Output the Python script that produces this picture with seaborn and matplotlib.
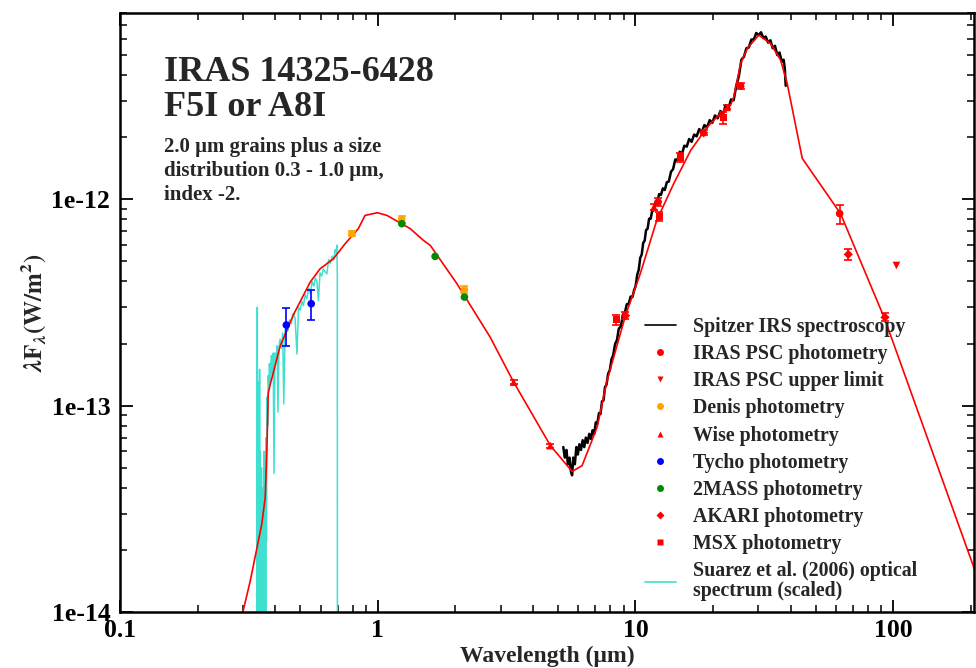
import matplotlib
matplotlib.use("Agg")
import matplotlib.pyplot as plt
import seaborn as sns
import pandas as pd
from matplotlib.lines import Line2D
from matplotlib.ticker import FixedLocator, FixedFormatter, LogLocator, NullFormatter

# ---------------- data ----------------
model_wl = [0.290, 0.320, 0.355, 0.366, 0.372, 0.376, 0.383, 0.418, 0.471, 0.547,
            0.598, 0.673, 0.748, 0.841, 0.893, 0.997, 1.086, 1.337, 1.506, 1.600,
            2.03, 2.73, 3.37, 4.68, 5.68, 6.21, 7.10, 7.76, 9.15, 10.45,
            12.1, 14.1, 16.4, 19.0, 21.4, 23.4, 24.1, 25.6, 27.2, 30.1,
            33.4, 36.6, 38.8, 44.4, 62.5, 92.7, 210.0]
model_flux = [8.4e-15, 1.41e-14, 2.67e-14, 3.59e-14, 6.5e-14, 1.15e-13, 1.27e-13, 1.94e-13, 2.76e-13, 3.97e-13,
              4.61e-13, 5.15e-13, 6.10e-13, 7.21e-13, 8.36e-13, 8.61e-13, 8.36e-13, 7.21e-13, 6.32e-13, 5.98e-13,
              3.90e-13, 2.15e-13, 1.30e-13, 6.40e-14, 4.80e-14, 5.12e-14, 7.85e-14, 1.32e-13, 2.73e-13, 4.37e-13,
              7.91e-13, 1.196e-12, 1.73e-12, 2.24e-12, 2.61e-12, 2.86e-12, 3.14e-12, 4.56e-12, 5.39e-12, 6.25e-12,
              5.70e-12, 4.73e-12, 3.65e-12, 1.58e-12, 8.53e-13, 2.64e-13, 1.53e-14]

spitzer_wl = [5.25, 5.32, 5.40, 5.47, 5.55, 5.62, 5.68, 5.74, 5.82, 5.90,
              5.98, 6.06, 6.15, 6.24, 6.33, 6.42, 6.52, 6.62, 6.72, 6.82,
              6.92, 7.02, 7.12, 7.22, 7.32, 7.42, 7.52, 7.62, 7.72, 7.84,
              7.96, 8.08, 8.20, 8.34, 8.48, 8.62, 8.78, 8.94, 9.10, 9.26,
              9.42, 9.58, 9.74, 9.88, 10.02, 10.16, 10.30, 10.44, 10.58, 10.72,
              10.86, 11.00, 11.15, 11.30, 11.46, 11.62, 11.80, 11.98, 12.16, 12.36,
              12.56, 12.78, 13.00, 13.24, 13.48, 13.74, 14.00, 14.28, 14.56, 14.86,
              15.16, 15.48, 15.82, 16.16, 16.52, 16.90, 17.28, 17.68, 18.10, 18.52,
              18.96, 19.42, 19.88, 20.36, 20.86, 21.36, 21.88, 22.40, 22.94, 23.50,
              24.06, 24.62, 25.20, 25.78, 26.36, 26.96, 27.56, 28.18, 28.80, 29.44,
              30.08, 30.72, 31.38, 32.04, 32.72, 33.40, 34.10, 34.80, 35.52, 36.24,
              36.96, 37.60, 38.00, 38.30]
spitzer_flux = [6.3e-14, 5.6e-14, 6.1e-14, 5.2e-14, 5.6e-14, 4.8e-14, 4.6e-14, 5.6e-14, 5.2e-14, 6.3e-14,
                5.8e-14, 6.5e-14, 6.1e-14, 6.8e-14, 6.3e-14, 7.0e-14, 6.6e-14, 7.3e-14, 6.9e-14, 7.6e-14,
                7.3e-14, 8.3e-14, 8.2e-14, 9.2e-14, 9.1e-14, 1.05e-13, 1.06e-13, 1.23e-13, 1.26e-13, 1.43e-13,
                1.49e-13, 1.68e-13, 1.76e-13, 1.99e-13, 2.08e-13, 2.36e-13, 2.42e-13, 2.76e-13, 2.82e-13, 3.10e-13,
                3.12e-13, 3.38e-13, 3.36e-13, 3.62e-13, 3.80e-13, 4.30e-13, 4.55e-13, 5.20e-13, 5.40e-13, 6.15e-13,
                6.30e-13, 7.10e-13, 7.20e-13, 8.05e-13, 8.05e-13, 8.80e-13, 8.85e-13, 9.75e-13, 9.70e-13, 1.06e-12,
                1.05e-12, 1.13e-12, 1.11e-12, 1.21e-12, 1.22e-12, 1.36e-12, 1.40e-12, 1.56e-12, 1.55e-12, 1.70e-12,
                1.66e-12, 1.82e-12, 1.80e-12, 1.96e-12, 1.90e-12, 2.06e-12, 2.02e-12, 2.19e-12, 2.12e-12, 2.29e-12,
                2.23e-12, 2.42e-12, 2.35e-12, 2.55e-12, 2.47e-12, 2.68e-12, 2.58e-12, 2.86e-12, 2.74e-12, 3.05e-12,
                3.02e-12, 3.55e-12, 3.95e-12, 4.75e-12, 4.90e-12, 5.40e-12, 5.45e-12, 5.95e-12, 5.95e-12, 6.40e-12,
                6.25e-12, 6.45e-12, 6.05e-12, 6.15e-12, 5.75e-12, 5.90e-12, 5.40e-12, 5.55e-12, 5.00e-12, 5.15e-12,
                4.65e-12, 4.75e-12, 4.30e-12, 3.55e-12]

suarez_wl = [0.338, 0.340, 0.341, 0.3425, 0.344, 0.345, 0.346, 0.347, 0.348, 0.349,
             0.350, 0.351, 0.352, 0.353, 0.354, 0.356, 0.357, 0.358, 0.360, 0.361,
             0.362, 0.364, 0.366, 0.368, 0.369, 0.370, 0.372, 0.374, 0.376, 0.378,
             0.380, 0.383, 0.386, 0.390, 0.393, 0.396, 0.399, 0.403, 0.407, 0.410,
             0.414, 0.418, 0.423, 0.428, 0.432, 0.437, 0.442, 0.448, 0.455, 0.462,
             0.470, 0.478, 0.486, 0.493, 0.500, 0.508, 0.515, 0.523, 0.531, 0.540,
             0.548, 0.556, 0.565, 0.573, 0.581, 0.589, 0.597, 0.606, 0.615, 0.625,
             0.635, 0.645, 0.655, 0.665, 0.675, 0.684, 0.690, 0.694, 0.697, 0.698]
suarez_flux = [1e-15, 2.0e-14, 3.0e-13, 1e-15, 1.3e-13, 1e-15, 8e-14, 2e-15, 1.5e-13, 3e-15,
               6e-14, 2e-15, 4.5e-14, 1e-15, 5e-14, 2e-15, 4e-14, 1e-15, 3.5e-14, 1e-15,
               6e-14, 2e-15, 4.5e-14, 1.5e-15, 7e-14, 2.2e-14, 1.1e-13, 8e-14, 1.4e-13, 1.2e-13,
               1.6e-13, 1.3e-13, 1.75e-13, 1.4e-13, 1.8e-13, 4.7e-14, 1.8e-13, 1.65e-13, 1.95e-13, 9.3e-14,
               1.95e-13, 2.1e-13, 1.9e-13, 2.25e-13, 1.02e-13, 2.3e-13, 2.45e-13, 2.3e-13, 2.6e-13, 2.5e-13,
               2.8e-13, 2.65e-13, 1.78e-13, 3.0e-13, 2.9e-13, 3.2e-13, 3.05e-13, 3.45e-13, 3.3e-13, 3.7e-13,
               3.5e-13, 4.0e-13, 3.8e-13, 4.15e-13, 4.0e-13, 3.23e-13, 4.4e-13, 4.25e-13, 4.6e-13, 4.45e-13,
               4.36e-13, 5.1e-13, 4.9e-13, 5.3e-13, 5.1e-13, 5.7e-13, 5.5e-13, 6.0e-13, 4.3e-13, 1e-15]

iras_wl = [12.25, 25.6, 62.0]
iras_flux = [9.7e-13, 3.54e-12, 8.53e-13]
iras_err = [0.4e-13, 1.2e-13, 0.9e-13]

iras_ul_wl = [103.0]
iras_ul_flux = [4.78e-13]

denis_wl = [0.794, 1.24, 2.17]
denis_flux = [6.81e-13, 8.0e-13, 3.65e-13]
denis_err = [0.2e-13, 0.3e-13, 0.15e-13]

wise_wl = [3.37, 4.68, 11.8, 22.7]
wise_flux = [1.30e-13, 6.4e-14, 9.18e-13, 2.79e-12]
wise_err = [0.03e-13, 0.15e-14, 0.3e-13, 0.6e-13]

tycho_wl = [0.442, 0.552]
tycho_flux = [2.46e-13, 3.12e-13]
tycho_err = [0.52e-13, 0.52e-13]

twomass_wl = [1.24, 1.67, 2.17]
twomass_flux = [7.62e-13, 5.29e-13, 3.36e-13]

akari_wl = [9.15, 18.4, 67.0, 93.0]
akari_flux = [2.73e-13, 2.10e-12, 5.41e-13, 2.68e-13]
akari_err = [0.1e-13, 0.06e-12, 0.35e-13, 0.12e-13]

msx_wl = [8.44, 12.4, 14.96, 21.9]
msx_flux = [2.61e-13, 8.27e-13, 1.60e-12, 2.49e-12]
msx_err = [0.15e-13, 0.45e-13, 0.08e-12, 0.16e-12]

legend_labels = ["Spitzer IRS spectroscopy", "IRAS PSC photometry", "IRAS PSC upper limit",
                 "Denis photometry", "Wise photometry", "Tycho photometry", "2MASS photometry",
                 "AKARI photometry", "MSX photometry",
                 "Suarez et al. (2006) optical\nspectrum (scaled)"]
x_ticks = [0.1, 1, 10, 100]
x_ticklabels = ["0.1", "1", "10", "100"]
y_ticks = [1e-14, 1e-13, 1e-12]
y_ticklabels = ["1e-14", "1e-13", "1e-12"]

# ---------------- style ----------------
sns.set_theme(style="ticks")
plt.rcParams["font.family"] = ["Liberation Serif", "DejaVu Serif"]
plt.rcParams["font.weight"] = "bold"
plt.rcParams["mathtext.fontset"] = "stix"

RED = "#ff0000"
ORANGE = "#ffa500"
BLUE = "#0000ff"
GREEN = "#008b00"
CYAN = "#40e0d0"

fig = plt.figure(figsize=(9.76, 6.68), dpi=100)
ax = fig.add_axes([120 / 976, 1 - 612 / 668, (974 - 120) / 976, (612 - 13) / 668])
ax.set_xscale("log")
ax.set_yscale("log")

sns.lineplot(x=suarez_wl, y=suarez_flux, ax=ax, color=CYAN, lw=1.1, sort=False, estimator=None, legend=False)
sns.lineplot(x=spitzer_wl, y=spitzer_flux, ax=ax, color="black", lw=1.8, sort=False, estimator=None, legend=False)
sns.lineplot(x=model_wl, y=model_flux, ax=ax, color=RED, lw=1.2, sort=False, estimator=None, legend=False)

ms = 30
def pts(wl, fl, color, marker, err=None, s=ms):
    if err is not None:
        ax.errorbar(wl, fl, yerr=err, fmt="none", ecolor=color, elinewidth=1.2, capsize=3, capthick=1.2, zorder=4)
    sns.scatterplot(x=wl, y=fl, ax=ax, color=color, marker=marker, s=s, edgecolor="none", zorder=5, legend=False)

pts(iras_wl, iras_flux, RED, "o", iras_err)
pts(iras_ul_wl, iras_ul_flux, RED, "v", None)
pts(denis_wl, denis_flux, ORANGE, "o", denis_err)
pts(wise_wl, wise_flux, RED, "^", wise_err)
pts(tycho_wl, tycho_flux, BLUE, "o", tycho_err)
pts(twomass_wl, twomass_flux, GREEN, "o", None)
pts(akari_wl, akari_flux, RED, "D", akari_err, s=22)
pts(msx_wl, msx_flux, RED, "s", msx_err, s=24)

ax.set_xlim(0.1, 206)
ax.set_ylim(1e-14, 8.0e-12)

ax.xaxis.set_major_locator(FixedLocator(x_ticks))
ax.xaxis.set_major_formatter(FixedFormatter(x_ticklabels))
ax.xaxis.set_minor_locator(LogLocator(base=10, subs=range(2, 10), numticks=20))
ax.xaxis.set_minor_formatter(NullFormatter())
ax.yaxis.set_major_locator(FixedLocator(y_ticks))
ax.yaxis.set_major_formatter(FixedFormatter(y_ticklabels))
ax.yaxis.set_minor_locator(LogLocator(base=10, subs=range(2, 10), numticks=20))
ax.yaxis.set_minor_formatter(NullFormatter())

ax.tick_params(which="both", direction="in", top=True, right=True, colors="black")
ax.tick_params(which="major", length=9, width=1.3, labelsize=18.5)
ax.tick_params(axis="x", which="major", pad=5)
ax.tick_params(axis="y", which="major", pad=7)
ax.tick_params(which="minor", length=5, width=1.1)
for lab in ax.get_xticklabels() + ax.get_yticklabels():
    lab.set_fontweight("bold")
for sp in ax.spines.values():
    sp.set_linewidth(1.8)
    sp.set_color("black")

ax.set_xlabel("Wavelength (\u03bcm)", fontsize=17, fontweight="bold", labelpad=3)
ax.set_ylabel(r"$\lambda\mathbf{F}_{\lambda}\mathbf{(W/m}^{\mathbf{2}}\mathbf{)}$", fontsize=18, labelpad=2)

fig.text(164 / 976, 1 - 81 / 668, "IRAS 14325-6428", fontsize=26, fontweight="bold", va="baseline")
fig.text(164 / 976, 1 - 116 / 668, "F5I or A8I", fontsize=26, fontweight="bold", va="baseline")
fig.text(164 / 976, 1 - 152 / 668, "2.0 \u03bcm grains plus a size", fontsize=15, fontweight="bold", va="baseline")
fig.text(164 / 976, 1 - 176 / 668, "distribution 0.3 - 1.0 \u03bcm,", fontsize=15, fontweight="bold", va="baseline")
fig.text(164 / 976, 1 - 200 / 668, "index -2.", fontsize=15, fontweight="bold", va="baseline")

handles = [
    Line2D([], [], color="black", lw=1.2),
    Line2D([], [], color=RED, marker="o", ls="none", ms=5, mec="none"),
    Line2D([], [], color=RED, marker="v", ls="none", ms=5, mec="none"),
    Line2D([], [], color=ORANGE, marker="o", ls="none", ms=5, mec="none"),
    Line2D([], [], color=RED, marker="^", ls="none", ms=5, mec="none"),
    Line2D([], [], color=BLUE, marker="o", ls="none", ms=5, mec="none"),
    Line2D([], [], color=GREEN, marker="o", ls="none", ms=5, mec="none"),
    Line2D([], [], color=RED, marker="D", ls="none", ms=4, mec="none"),
    Line2D([], [], color=RED, marker="s", ls="none", ms=4.5, mec="none"),
    Line2D([], [], color=CYAN, lw=1.2),
]
leg = ax.legend(handles, legend_labels, loc="upper left", bbox_to_anchor=(645 / 976, 1 - 317 / 668),
                bbox_transform=fig.transFigure, frameon=False, fontsize=14.3, handlelength=1.55,
                handletextpad=0.85, labelspacing=0.36, borderpad=0, borderaxespad=0)
for t in leg.get_texts():
    t.set_fontweight("bold")
    t.set_linespacing(0.95)

fig.savefig("out.png", dpi=100)
